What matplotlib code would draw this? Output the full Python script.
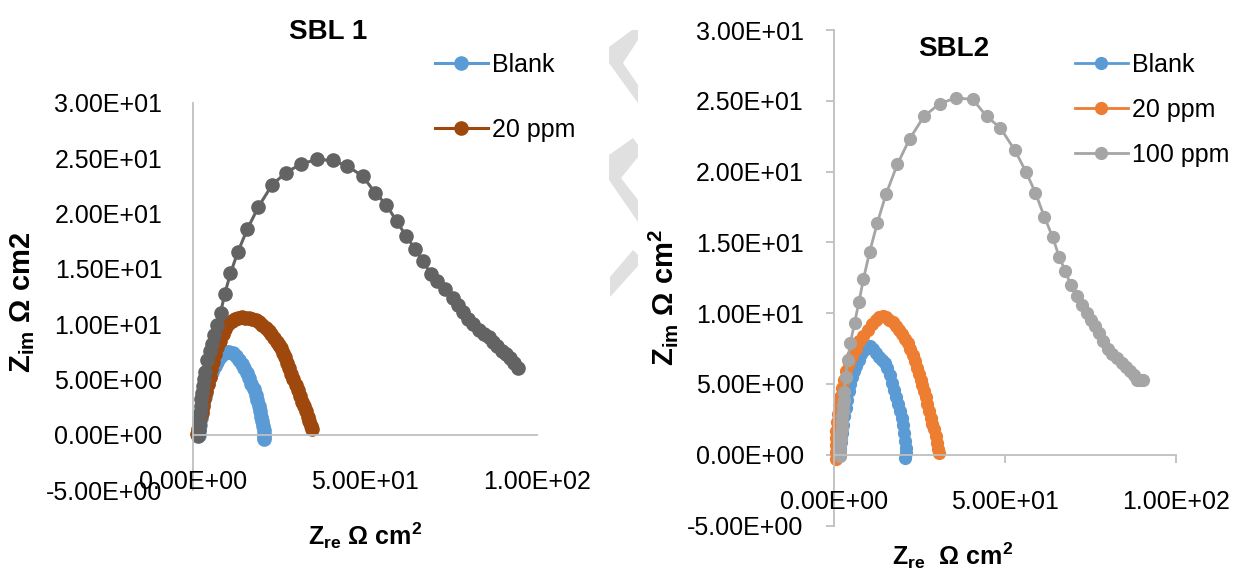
import matplotlib
matplotlib.use("Agg")
import matplotlib.pyplot as plt
import matplotlib.transforms as mtransforms
from matplotlib import font_manager
from matplotlib.patches import Polygon

W, H = 1247, 573

# SBL 1 (left chart)
sbl1_blank_x = [1.6, 1.8, 2.0, 2.3, 2.6, 3.0, 3.4, 3.9, 4.4, 5.0, 5.6, 6.3, 7.0, 7.8, 8.6, 9.5,
                10.5, 11.5, 12.4, 13.3, 14.1, 14.9, 15.6, 16.3, 17.0, 17.6, 18.2, 18.7, 19.2,
                19.6, 19.9, 20.2, 20.4, 20.6, 20.7, 20.7, 20.6]
sbl1_blank_y = [0.0, 0.4, 0.9, 1.5, 2.1, 2.8, 3.4, 4.0, 4.6, 5.2, 5.7, 6.2, 6.6, 7.0, 7.3, 7.5,
                7.5, 7.4, 7.1, 6.8, 6.4, 6.0, 5.6, 5.1, 4.6, 4.1, 3.6, 3.1, 2.6, 2.1, 1.6, 1.2,
                0.8, 0.4, 0.1, -0.2, -0.4]

sbl1_20_x = [1.3, 1.5, 1.8, 2.1, 2.5, 2.9, 3.3, 3.8, 4.3, 4.8, 5.3, 5.9, 6.5, 7.1, 7.8, 8.6,
             9.4, 10.3, 11.2, 12.2, 13.2, 14.2, 15.2, 16.2, 17.2, 18.2, 19.2, 20.2, 21.1, 22.0,
             22.8, 23.6, 24.3, 25.0, 25.6, 26.2, 26.8, 27.4, 28.0, 28.6, 29.2, 29.8, 30.4,
             31.0, 31.6, 32.2, 32.8, 33.3, 33.8, 34.3, 34.7]
sbl1_20_y = [0.1, 0.5, 1.0, 1.5, 2.0, 2.6, 3.2, 3.9, 4.6, 5.2, 5.9, 6.6, 7.3, 7.9, 8.5, 9.1,
             9.6, 10.0, 10.3, 10.5, 10.6, 10.65, 10.6, 10.6, 10.5, 10.35, 10.15, 9.9, 9.65, 9.4,
             9.1, 8.75, 8.4, 8.1, 7.8, 7.4, 7.0, 6.5, 6.0, 5.5, 5.0, 4.5, 4.0, 3.5, 3.0, 2.6,
             2.1, 1.6, 1.2, 0.8, 0.5]

sbl1_100_x = [1.5, 1.6, 1.7, 1.8, 2.0, 2.2, 2.4, 2.6, 2.8, 3.1, 3.5, 4.2, 4.8, 5.4, 6.1, 6.9,
              8.0, 9.2, 10.9, 13.0, 15.8, 19.0, 23.0, 27.0, 31.5, 36.1, 40.7, 44.8, 49.3, 52.9,
              56.2, 59.2, 61.9, 64.5, 66.9, 69.2, 70.9, 73.2, 75.5, 77.0, 78.5, 80.0, 81.5,
              83.0, 84.5, 86.0, 87.3, 88.5, 89.7, 91.0, 92.2, 93.4, 94.5]
sbl1_100_y = [-0.1, 0.4, 0.9, 1.4, 2.0, 2.6, 3.2, 3.8, 4.4, 5.0, 5.7, 6.8, 7.6, 8.2, 9.0, 9.9,
              11.0, 12.7, 14.6, 16.5, 18.6, 20.6, 22.6, 23.7, 24.5, 24.9, 24.8, 24.3, 23.4, 21.9,
              20.8, 19.3, 18.0, 16.8, 15.7, 14.5, 13.9, 13.2, 12.4, 11.7, 11.1, 10.5, 10.0,
              9.5, 9.1, 8.8, 8.4, 8.0, 7.6, 7.3, 6.9, 6.5, 6.0]

# SBL2 (right chart)
sbl2_blank_x = [1.7, 1.9, 2.1, 2.4, 2.7, 3.0, 3.4, 3.8, 4.3, 4.8, 5.3, 5.9, 6.5, 7.2, 7.9, 8.7,
                9.6, 10.6, 11.5, 12.4, 13.3, 14.1, 14.9, 15.6, 16.3, 17.0, 17.6, 18.2, 18.8,
                19.3, 19.8, 20.2, 20.6, 20.9, 21.1, 21.1, 20.9]
sbl2_blank_y = [0.0, 0.4, 0.9, 1.5, 2.1, 2.7, 3.3, 3.9, 4.5, 5.0, 5.5, 5.9, 6.3, 6.7, 7.1, 7.4,
                7.6, 7.65, 7.5, 7.2, 6.9, 6.7, 6.5, 6.1, 5.6, 5.1, 4.6, 4.1, 3.6, 3.1, 2.6, 2.1,
                1.5, 1.0, 0.5, 0.1, -0.2]

sbl2_20_x = [0.6, 0.5, 0.5, 0.6, 0.7, 0.9, 1.1, 1.4, 1.8, 2.3, 2.9, 3.6, 4.4, 5.3, 6.3, 7.4,
             8.6, 9.8, 11.0, 12.2, 13.2, 14.2, 15.2, 16.2, 17.2, 18.2, 19.1, 20.0, 20.8, 21.6,
             22.3, 23.0, 23.6, 24.2, 24.8, 25.3, 25.8, 26.3, 26.8, 27.3, 27.8, 28.3, 28.8,
             29.3, 29.7, 30.1, 30.4, 30.6]
sbl2_20_y = [-0.3, 0.2, 0.7, 1.2, 1.7, 2.3, 2.9, 3.5, 4.1, 4.7, 5.3, 5.9, 6.5, 7.0, 7.5, 8.0,
             8.4, 8.8, 9.2, 9.5, 9.7, 9.78, 9.7, 9.55, 9.35, 9.1, 8.8, 8.5, 8.2, 7.9, 7.5,
             7.05, 6.6, 6.1, 5.7, 5.3, 4.9, 4.5, 4.1, 3.6, 3.1, 2.6, 2.2, 1.8, 1.3, 0.8, 0.4, 0.1]

sbl2_100_x = [1.75, 1.8, 1.9, 2.0, 2.1, 2.2, 2.3, 2.4, 2.5, 2.7, 2.8, 3.0, 3.4, 4.0, 4.8, 6.0,
              7.3, 8.6, 10.4, 12.7, 15.2, 18.5, 22.1, 26.3, 30.9, 35.6, 40.6, 44.6, 48.6, 52.9,
              56.1, 58.9, 61.5, 63.9, 65.8, 67.6, 69.2, 71.0, 72.5, 74.0, 75.2, 76.4, 77.6,
              78.8, 80.0, 81.2, 82.7, 84.2, 85.4, 86.6, 87.6, 88.5, 89.4, 90.3]
sbl2_100_y = [-0.1, 0.3, 0.7, 1.1, 1.5, 1.9, 2.3, 2.7, 3.1, 3.5, 3.9, 4.4, 5.5, 6.7, 7.9, 9.3,
              10.8, 12.4, 14.3, 16.4, 18.4, 20.5, 22.3, 23.9, 24.8, 25.2, 25.1, 23.9, 23.1, 21.5,
              20.0, 18.5, 16.8, 15.4, 14.0, 13.0, 12.0, 11.2, 10.6, 10.0, 9.5, 9.1, 8.6, 8.0,
              7.5, 7.1, 6.8, 6.5, 6.2, 5.9, 5.6, 5.3, 5.3, 5.3]

y_ticks = [-5, 0, 5, 10, 15, 20, 25, 30]
y_tick_labels = ["-5.00E+00", "0.00E+00", "5.00E+00", "1.00E+01", "1.50E+01",
                 "2.00E+01", "2.50E+01", "3.00E+01"]
x_ticks = [0, 50, 100]
x_tick_labels = ["0.00E+00", "5.00E+01", "1.00E+02"]

BLUE = "#5B9BD5"
BROWN = "#9E480E"
DARKGREY = "#636363"
ORANGE = "#ED7D31"
GREY = "#A5A5A5"
AXIS = "#BFBFBF"
WM = "#E0E0E0"

names = {f.name for f in font_manager.fontManager.ttflist}
TITLE_FONT = "Liberation Sans Narrow" if "Liberation Sans Narrow" in names else "Liberation Sans"
TITLE_SIZE = 23 if TITLE_FONT == "Liberation Sans Narrow" else 20

plt.rcParams["font.family"] = ["Liberation Sans", "DejaVu Sans"]
plt.rcParams["mathtext.fontset"] = "custom"
plt.rcParams["mathtext.rm"] = "Liberation Sans"
plt.rcParams["mathtext.bf"] = "Liberation Sans:bold"

fig = plt.figure(figsize=(W / 100, H / 100), dpi=100)


def px(x, y):
    return x / W, 1 - y / H


# watermark shapes in the gap between the charts
for shape in [
    [(632, 30), (638, 30), (638, 40), (623, 63), (638, 85), (638, 103), (609, 63), (609, 47)],
    [(633, 138), (638, 145), (638, 157), (621, 178), (638, 200), (638, 222), (609, 180), (609, 155)],
    [(633, 250), (638, 255), (638, 266), (610, 297), (610, 277)],
]:
    fig.add_artist(Polygon([px(*p) for p in shape], closed=True, transform=fig.transFigure,
                           facecolor=WM, edgecolor="none", zorder=0))


def setup_axes(ax, tick_len, ypad, xlabel_y):
    ax.set_xlim(0, 100)
    ax.set_ylim(-5, 30)
    for s in ["top", "right"]:
        ax.spines[s].set_visible(False)
    ax.spines["bottom"].set_position(("data", 0))
    for s in ["left", "bottom"]:
        ax.spines[s].set_color(AXIS)
        ax.spines[s].set_linewidth(1.3)
    ax.set_yticks(y_ticks)
    ax.set_yticklabels(y_tick_labels)
    ax.set_xticks(x_ticks)
    ax.set_xticklabels([])
    ax.tick_params(axis="y", length=tick_len, width=1.3, color=AXIS, pad=ypad,
                   labelsize=18, labelcolor="black")
    ax.tick_params(axis="x", length=tick_len, width=1.3, color=AXIS, direction="out")
    ax.patch.set_visible(False)
    trans = mtransforms.blended_transform_factory(ax.transData, fig.transFigure)
    for xv, lab in zip(x_ticks, x_tick_labels):
        ax.text(xv, xlabel_y, lab, transform=trans, ha="center", va="center",
                fontsize=18, clip_on=False)


# ---- left chart ----
ax1 = fig.add_axes([193 / W, 1 - 490 / H, 344 / W, 387 / H])
setup_axes(ax1, 0, 22, 1 - 482 / H)
l1b, = ax1.plot(sbl1_blank_x, sbl1_blank_y, color=BLUE, lw=2.2, marker="o", ms=9.5,
                label="Blank", clip_on=False)
l1m, = ax1.plot(sbl1_20_x, sbl1_20_y, color=BROWN, lw=2.2, marker="o", ms=9.5,
                label="20 ppm", clip_on=False)
ax1.plot(sbl1_100_x, sbl1_100_y, color=DARKGREY, lw=2.2, marker="o", ms=9.5,
         label="100 ppm", clip_on=False)
fig.legend(handles=[l1b, l1m], loc="upper left", bbox_to_anchor=px(435, 53),
           bbox_transform=fig.transFigure, frameon=False, fontsize=18, borderpad=0,
           borderaxespad=0, handlelength=2.1, handletextpad=0.16, labelspacing=1.64)
fig.text(*px(328, 39), "SBL 1", family=TITLE_FONT, fontsize=TITLE_SIZE,
         fontweight="bold", ha="center", va="baseline")
fig.text(*px(365, 545), r"Z$_\mathbf{re}$ Ω cm$^\mathbf{2}$", fontsize=18,
         fontweight="bold", ha="center", va="baseline")
fig.text(*px(23, 302), r"Z$_\mathbf{im}$ Ω cm2", fontsize=21, fontweight="bold",
         ha="center", va="center", rotation=90)

# ---- right chart ----
ax2 = fig.add_axes([834 / W, 1 - 525.5 / H, 342 / W, 495.5 / H])
setup_axes(ax2, 5.8, 16, 1 - 502 / H)
l2b, = ax2.plot(sbl2_blank_x, sbl2_blank_y, color=BLUE, lw=2, marker="o", ms=8.5,
                label="Blank", clip_on=False)
l2m, = ax2.plot(sbl2_20_x, sbl2_20_y, color=ORANGE, lw=2, marker="o", ms=8.5,
                label="20 ppm", clip_on=False)
l2h, = ax2.plot(sbl2_100_x, sbl2_100_y, color=GREY, lw=2, marker="o", ms=8.5,
                label="100 ppm", clip_on=False)
fig.legend(handles=[l2b, l2m, l2h], loc="upper left", bbox_to_anchor=px(1075, 53),
           bbox_transform=fig.transFigure, frameon=False, fontsize=18, borderpad=0,
           borderaxespad=0, handlelength=2.1, handletextpad=0.16, labelspacing=0.84)
fig.text(*px(954, 56), "SBL2", family=TITLE_FONT, fontsize=TITLE_SIZE,
         fontweight="bold", ha="center", va="baseline")
fig.text(*px(953, 565), r"Z$_\mathbf{re}$  Ω cm$^\mathbf{2}$", fontsize=18,
         fontweight="bold", ha="center", va="baseline")
fig.text(*px(663, 297), r"Z$_\mathbf{im}$ Ω cm$^\mathbf{2}$", fontsize=21,
         fontweight="bold", ha="center", va="center", rotation=90)

fig.savefig("out.png", dpi=100)
